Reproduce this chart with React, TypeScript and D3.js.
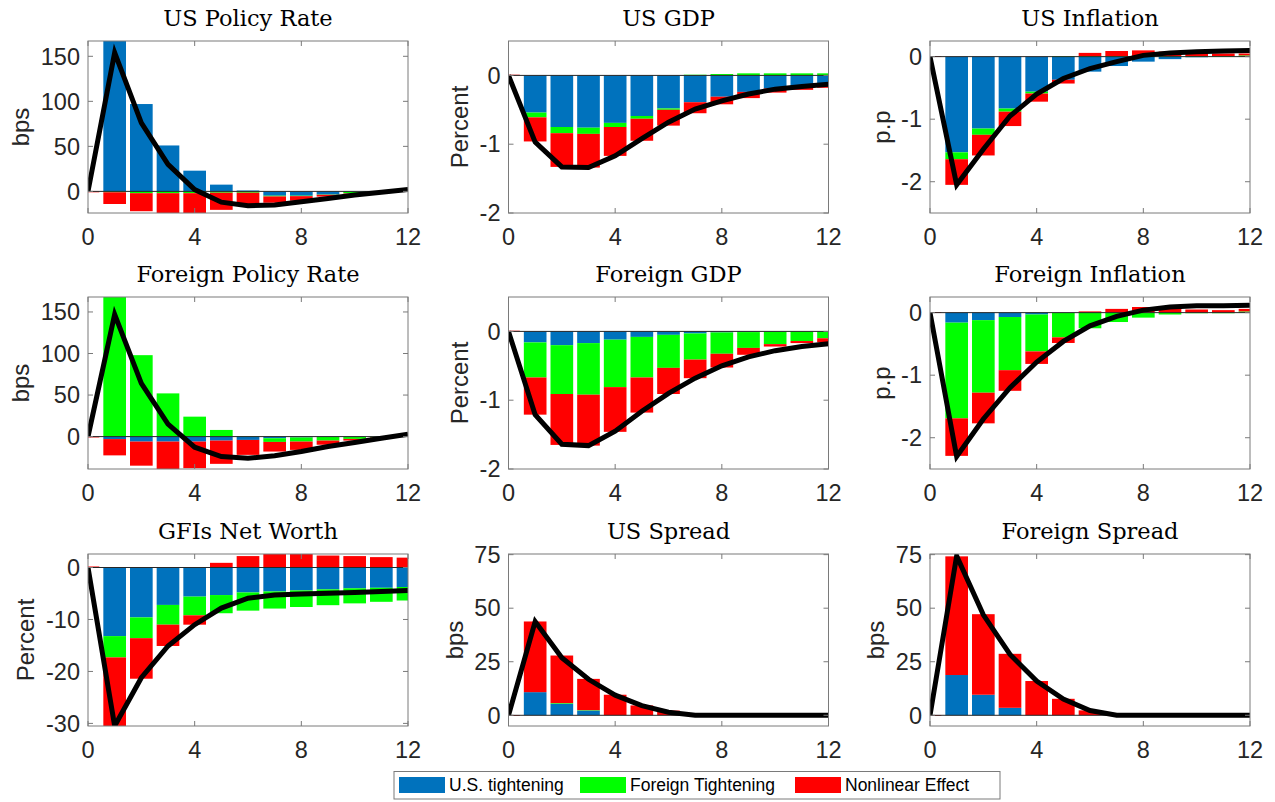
import React from 'react';
import * as d3 from 'd3';

// quarters after the shock
const horizon = [0, 1, 2, 3, 4, 5, 6, 7, 8, 9, 10, 11, 12];
const xTicks = [0, 4, 8, 12];

const seriesNames = ['U.S. tightening', 'Foreign Tightening', 'Nonlinear Effect'];
const seriesColors = ['#0072BD', '#00FF00', '#FF0000'];

// US Policy Rate
const usRateUS = [0, 170, 97, 51, 23, 7.5, 1, -4.8, -4.8, -3.5, -0.5, -0.3, 0];
const usRateFor = [0, -1, -2, -2, -2, -1.5, -1.5, -0.8, -0.5, -0.3, -1.5, -0.5, -0.2];
const usRateNL = [-1, -13, -20, -24, -22, -19, -14, -7, -5, -2, -0.5, -0.2, 0];
const usRateTot = [0, 154, 76, 30, 2, -12, -16, -15, -11.5, -7.8, -4, -1, 2];

// US GDP
const usGdpUS = [0, -0.54, -0.75, -0.76, -0.69, -0.59, -0.48, -0.39, -0.31, -0.24, -0.19, -0.16, -0.12];
const usGdpFor = [0, -0.07, -0.09, -0.09, -0.06, -0.04, -0.02, 0.01, 0.02, 0.03, 0.03, 0.03, 0.03];
const usGdpNL = [0.01, -0.35, -0.49, -0.49, -0.42, -0.32, -0.23, -0.16, -0.11, -0.09, -0.06, -0.05, -0.06];
const usGdpTot = [0, -0.97, -1.33, -1.34, -1.17, -0.92, -0.68, -0.49, -0.37, -0.27, -0.2, -0.16, -0.13];

// US Inflation
const usInfUS = [0, -1.53, -1.15, -0.83, -0.56, -0.37, -0.24, -0.15, -0.08, -0.04, -0.01, 0, 0];
const usInfFor = [0, -0.11, -0.1, -0.05, -0.03, 0.01, 0.01, 0.01, 0.01, 0.01, 0.01, 0.01, 0.02];
const usInfNL = [0.01, -0.41, -0.33, -0.23, -0.13, -0.06, 0.05, 0.08, 0.09, 0.07, 0.05, 0.04, 0.03];
const usInfTot = [0, -2.05, -1.48, -0.95, -0.6, -0.35, -0.19, -0.08, 0.02, 0.06, 0.08, 0.09, 0.1];

// Foreign Policy Rate
const fRateUS = [0, -3, -6, -6, -6, -4.8, -4, -2, -1, -0.5, -0.3, -0.2, 0];
const fRateFor = [0, 170, 98, 52, 24, 8, 0.5, -4.4, -5, -4.3, -2.5, -1, -0.3];
const fRateNL = [-1, -19.6, -29, -34, -32, -28, -18, -11.6, -10, -5, -2, -0.5, 0];
const fRateTot = [0, 147, 64, 15, -12.8, -24, -26, -23, -18, -12, -7, -2, 3];

// Foreign GDP
const fGdpUS = [0, -0.16, -0.2, -0.17, -0.12, -0.08, -0.05, -0.03, -0.015, -0.01, -0.005, 0, 0];
const fGdpFor = [0, -0.51, -0.71, -0.75, -0.69, -0.59, -0.48, -0.38, -0.31, -0.23, -0.18, -0.14, -0.1];
const fGdpNL = [0.01, -0.54, -0.74, -0.74, -0.65, -0.51, -0.38, -0.27, -0.2, -0.1, -0.035, -0.03, -0.06];
const fGdpTot = [0, -1.21, -1.64, -1.66, -1.45, -1.16, -0.9, -0.68, -0.5, -0.37, -0.28, -0.22, -0.18];

// Foreign Inflation
const fInfUS = [0, -0.16, -0.12, -0.07, -0.03, -0.005, 0, 0, 0, 0, 0, 0, 0];
const fInfFor = [0, -1.53, -1.16, -0.85, -0.59, -0.39, -0.25, -0.15, -0.08, -0.03, -0.01, -0.01, 0.02];
const fInfNL = [0.01, -0.6, -0.49, -0.33, -0.2, -0.09, 0.02, 0.06, 0.09, 0.07, 0.05, 0.04, 0.04];
const fInfTot = [0, -2.3, -1.7, -1.2, -0.79, -0.46, -0.21, -0.06, 0.04, 0.09, 0.11, 0.11, 0.12];

// GFIs Net Worth
const nwUS = [0, -13.2, -9.6, -7.2, -5.6, -5.3, -4.8, -4.6, -4.4, -4.2, -4.0, -3.9, -3.75];
const nwFor = [0, -4.1, -4.0, -3.8, -3.6, -3.5, -3.5, -3.3, -3.2, -3.05, -2.9, -2.7, -2.6];
const nwNL = [0.2, -14, -7.8, -4.1, -1.8, 0.9, 2.2, 2.8, 2.8, 2.3, 2.2, 2.0, 1.9];
const nwTot = [0, -30.5, -21.2, -15.1, -11, -7.8, -5.9, -5.3, -5.1, -4.95, -4.8, -4.6, -4.4];

// US Spread
const usSprUS = [0, 10.8, 5.4, 2.2, 0, 0, 0, 0, 0, 0, 0, 0, 0];
const usSprFor = [0, 0, 0.3, 0.2, 0, 0, 0, 0, 0, 0, 0, 0, 0];
const usSprNL = [-0.3, 33, 22.2, 14.6, 9.6, 4.6, 2.2, 0.5, 0, 0, 0, 0, 0];
const usSprTot = [0, 43.8, 26.9, 16.8, 9.4, 4.5, 1.4, 0, 0, 0, 0, 0, 0];

// Foreign Spread
const fSprUS = [0, 18.8, 9.6, 3.5, 0, 0, 0, 0, 0, 0, 0, 0, 0];
const fSprFor = [0, 0, 0, 0, 0, 0, 0, 0, 0, 0, 0, 0, 0];
const fSprNL = [-0.3, 55.4, 37.6, 25.2, 16, 7.7, 2.3, 0.3, 0, 0, 0, 0, 0];
const fSprTot = [0, 74.4, 46.9, 28.4, 16, 7.6, 2.2, 0, 0, 0, 0, 0, 0];

const panels = [
  { title: 'US Policy Rate', ylabel: 'bps', ylim: [-24, 167], yticks: [0, 50, 100, 150], bars: [usRateUS, usRateFor, usRateNL], total: usRateTot },
  { title: 'US GDP', ylabel: 'Percent', ylim: [-2, 0.5], yticks: [-2, -1, 0], bars: [usGdpUS, usGdpFor, usGdpNL], total: usGdpTot },
  { title: 'US Inflation', ylabel: 'p.p', ylim: [-2.5, 0.25], yticks: [-2, -1, 0], bars: [usInfUS, usInfFor, usInfNL], total: usInfTot },
  { title: 'Foreign Policy Rate', ylabel: 'bps', ylim: [-39, 168], yticks: [0, 50, 100, 150], bars: [fRateUS, fRateFor, fRateNL], total: fRateTot },
  { title: 'Foreign GDP', ylabel: 'Percent', ylim: [-2, 0.5], yticks: [-2, -1, 0], bars: [fGdpUS, fGdpFor, fGdpNL], total: fGdpTot },
  { title: 'Foreign Inflation', ylabel: 'p.p', ylim: [-2.5, 0.25], yticks: [-2, -1, 0], bars: [fInfUS, fInfFor, fInfNL], total: fInfTot },
  { title: 'GFIs Net Worth', ylabel: 'Percent', ylim: [-30.5, 2.6], yticks: [-30, -20, -10, 0], bars: [nwUS, nwFor, nwNL], total: nwTot },
  { title: 'US Spread', ylabel: 'bps', ylim: [-5, 75.3], yticks: [0, 25, 50, 75], bars: [usSprUS, usSprFor, usSprNL], total: usSprTot },
  { title: 'Foreign Spread', ylabel: 'bps', ylim: [-5, 75.3], yticks: [0, 25, 50, 75], bars: [fSprUS, fSprFor, fSprNL], total: fSprTot },
];

const colLeft = [88, 508.5, 930];
const rowTop = [41, 297, 554];
const AW = 320;
const AH = 172;
const sans = '"Liberation Sans", Arial, sans-serif';
const serif = '"DejaVu Serif", serif';
const tickFont = 23.5;
const axisColor = '#7a7a7a';
const textColor = '#262626';

// rough width of a tick label in Liberation Sans
function labelWidth(s: string) {
  let w = 0;
  for (const c of s) w += c === '-' ? 0.333 : 0.556;
  return w * tickFont;
}

function Panel({ p, idx }: { p: any; idx: number }) {
  const left = colLeft[idx % 3];
  const top = rowTop[Math.floor(idx / 3)];
  const x = d3.scaleLinear().domain([0, 12]).range([0, AW]);
  const y = d3.scaleLinear().domain(p.ylim).range([AH, 0]);
  const bw = (x(1) - x(0)) * 0.85;
  const clipId = 'clip' + idx;

  // MATLAB style stacking: positives up, negatives down
  const rects: any[] = [];
  horizon.forEach((h, i) => {
    let pos = 0;
    let neg = 0;
    p.bars.forEach((s: number[], k: number) => {
      const v = s[i];
      if (v === 0) return;
      let y0, y1;
      if (v > 0) { y0 = pos; y1 = pos + v; pos = y1; }
      else { y0 = neg; y1 = neg + v; neg = y1; }
      rects.push(
        <rect key={i + '-' + k} x={x(h) - bw / 2} width={bw}
          y={y(Math.max(y0, y1))} height={Math.abs(y(y0) - y(y1))}
          fill={seriesColors[k]} />
      );
    });
  });

  const line = d3.line<number>().x((d, i) => x(horizon[i])).y(d => y(d));
  const maxW = d3.max(p.yticks.map((t: number) => labelWidth(String(t)))) as number;
  const ylabX = -8 - maxW - 20;

  return (
    <g transform={`translate(${left},${top})`}>
      <defs>
        <clipPath id={clipId}><rect x={0} y={0} width={AW} height={AH} /></clipPath>
      </defs>
      <g clipPath={`url(#${clipId})`}>
        {rects}
        <line x1={0} x2={AW} y1={y(0)} y2={y(0)} stroke={textColor} strokeWidth={1} />
        <path d={line(p.total) as string} fill="none" stroke="#000" strokeWidth={5} strokeLinejoin="miter" />
      </g>
      <rect x={0} y={0} width={AW} height={AH} fill="none" stroke={axisColor} strokeWidth={1} />
      {xTicks.map(t => (
        <g key={'x' + t}>
          <line x1={x(t)} x2={x(t)} y1={AH} y2={AH - 5} stroke={axisColor} />
          <line x1={x(t)} x2={x(t)} y1={0} y2={5} stroke={axisColor} />
          <text x={x(t)} y={AH + 31.5} textAnchor="middle" fontFamily={sans} fontSize={tickFont} fill={textColor}>{t}</text>
        </g>
      ))}
      {p.yticks.map((t: number) => (
        <g key={'y' + t}>
          <line x1={0} x2={5} y1={y(t)} y2={y(t)} stroke={axisColor} />
          <line x1={AW} x2={AW - 5} y1={y(t)} y2={y(t)} stroke={axisColor} />
          <text x={-8} y={y(t)} dy="0.35em" textAnchor="end" fontFamily={sans} fontSize={tickFont} fill={textColor}>{t}</text>
        </g>
      ))}
      <text transform={`translate(${ylabX},${AH / 2}) rotate(-90)`} dy="0.35em" textAnchor="middle"
        fontFamily={sans} fontSize={24} fill={textColor}>{p.ylabel}</text>
      <text x={AW / 2} y={-15} textAnchor="middle" fontFamily={serif} fontSize={22.5} fill="#000">{p.title}</text>
    </g>
  );
}

function Legend() {
  const items = [399, 580, 795];
  return (
    <g>
      <rect x={394} y={771.5} width={606} height={27.5} fill="#fff" stroke={axisColor} strokeWidth={1} />
      {seriesNames.map((n, i) => (
        <g key={n}>
          <rect x={items[i]} y={777} width={46} height={16} fill={seriesColors[i]} />
          <text x={items[i] + 50} y={785} dy="0.35em" fontFamily={sans} fontSize={17.5} fill="#000">{n}</text>
        </g>
      ))}
    </g>
  );
}

export default function App() {
  return (
    <svg width={1275} height={802} style={{ position: 'absolute', left: 0, top: 0, background: '#fff' }}>
      <rect width={1275} height={802} fill="#fff" />
      {panels.map((p, i) => <Panel key={p.title} p={p} idx={i} />)}
      <Legend />
    </svg>
  );
}
